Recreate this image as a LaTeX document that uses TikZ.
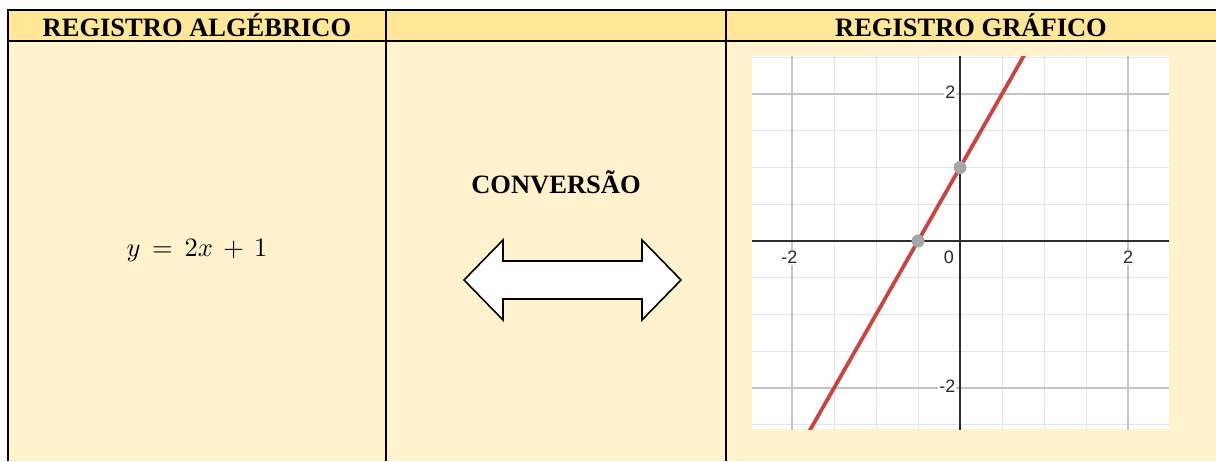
\documentclass[tikz,border=0pt]{standalone}
\usepackage{graphicx}
\usepackage{fontspec}
\setmainfont{Liberation Serif}
\newfontfamily\arialf{Liberation Sans}
\definecolor{hdrfill}{HTML}{FFE699}
\definecolor{bodyfill}{HTML}{FFF2CC}
\definecolor{minorgrid}{HTML}{E6E6E6}
\definecolor{majorgrid}{HTML}{C4C4C4}
\definecolor{axiscol}{HTML}{2E2E2E}
\definecolor{lineRed}{HTML}{C74440}
\definecolor{dotgray}{HTML}{A6A6A6}
\definecolor{labgray}{HTML}{2A2A2A}
\tikzset{
  hdrcell/.style={fill=hdrfill, draw=none, inner sep=0pt, font=\bfseries\fontsize{26.5}{30}\selectfont},
  bodycell/.style={fill=bodyfill, draw=none, inner sep=0pt},
  rule/.style={line width=1.7pt, black},
  ticklab/.style={font=\arialf\fontsize{18}{20}\selectfont, text=labgray, fill=white, inner sep=1pt},
}
\begin{document}
\begin{tikzpicture}[x=1pt, y=-1pt]
\useasboundingbox (0,0) rectangle (1216,461);
% cells
\node[hdrcell, minimum width=378pt, minimum height=31pt] (h1) at (197,25.5) {REGISTRO ALGÉBRICO};
\node[hdrcell, minimum width=340pt, minimum height=31pt] (h2) at (556,25.5) {};
\node[hdrcell, minimum width=490pt, minimum height=31pt] (h3) at (971,25.5) {REGISTRO GRÁFICO};
\node[bodycell, minimum width=378pt, minimum height=420pt] (b1) at (197,251) {};
\node[bodycell, minimum width=340pt, minimum height=420pt] (b2) at (556,251) {};
\node[bodycell, minimum width=490pt, minimum height=420pt] (b3) at (971,251) {};
% rules
\draw[rule] (8,10) -- (1216,10);
\draw[rule] (8,41) -- (1216,41);
\draw[rule] (8,9.15) -- (8,461);
\draw[rule] (386,9.15) -- (386,461);
\draw[rule] (726,9.15) -- (726,461);
% column 1
\node[inner sep=0pt] (eq) at (197,251) {\scalebox{2.65}{$\thickmuskip=8mu\medmuskip=7mu y = 2x + 1$}};
% column 2
\node[inner sep=0pt, font=\bfseries\fontsize{26.5}{30}\selectfont] (conv) at (556,182) {CONVERSÃO};
\coordinate (arrc) at (572.5,280);
\draw[line width=1.6pt, fill=white, line join=miter]
  (464,280) -- (503,240) -- (503,261) -- (642,261) -- (642,240) -- (681,280)
  -- (642,320) -- (642,299) -- (503,299) -- (503,320) -- cycle;
% graph
\fill[white] (752,56) rectangle (1169,429);
\begin{scope}
\clip (752,56) rectangle (1169,429);
\begin{scope}[shift={(960pt,-241pt)}, x=84pt, y=73.5pt]
  \foreach \v in {-2.5,-1.5,-1,-0.5,0.5,1,1.5,2.5} {
    \draw[minorgrid, line width=1pt] (\v,-2.7) -- (\v,2.7);
    \draw[minorgrid, line width=1pt] (-2.7,\v) -- (2.7,\v);
  }
  \foreach \v in {-2,2} {
    \draw[majorgrid, line width=1.2pt] (\v,-2.7) -- (\v,2.7);
    \draw[majorgrid, line width=1.2pt] (-2.7,\v) -- (2.7,\v);
  }
  \node[ticklab, anchor=east] (ly2) at (-0.04,2.02) {2};
  \node[ticklab, anchor=east] (lym2) at (-0.04,-1.98) {-2};
  \node[ticklab, anchor=north east] (l0) at (-0.06,-0.12) {0};
  \node[ticklab, anchor=north] (lxm2) at (-2.03,-0.12) {-2};
  \node[ticklab, anchor=north] (lx2) at (2,-0.12) {2};
  \draw[axiscol, line width=1.8pt] (0,-2.7) -- (0,2.7);
  \draw[axiscol, line width=1.8pt] (-2.7,0) -- (2.7,0);
  \draw[lineRed, line width=3.8pt] (-1.9,-2.8) -- (0.9,2.8);
  \fill[dotgray] (0,1) circle (6.5pt);
  \fill[dotgray] (-0.5,0) circle (6.5pt);
\end{scope}
\end{scope}
\end{tikzpicture}
\end{document}
